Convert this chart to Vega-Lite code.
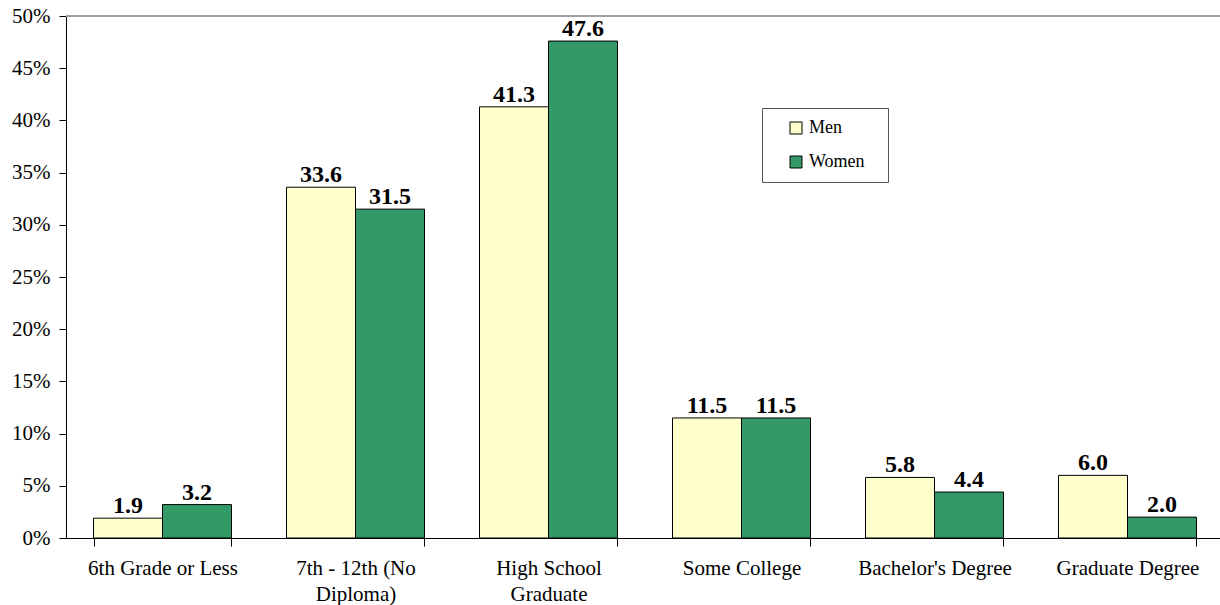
{
  "$schema": "https://vega.github.io/schema/vega-lite/v6.json",
  "width": 1158,
  "height": 522,
  "autosize": "none",
  "padding": {"left": 66, "top": 16, "right": 0, "bottom": 67},
  "background": "white",
  "config": {
    "view": {"stroke": null},
    "font": "Liberation Serif"
  },
  "data": {
    "values": [
      {"level": "6th Grade or Less", "sex": "Men", "pct": 1.9},
      {"level": "6th Grade or Less", "sex": "Women", "pct": 3.2},
      {"level": "7th - 12th (No Diploma)", "sex": "Men", "pct": 33.6},
      {"level": "7th - 12th (No Diploma)", "sex": "Women", "pct": 31.5},
      {"level": "High School Graduate", "sex": "Men", "pct": 41.3},
      {"level": "High School Graduate", "sex": "Women", "pct": 47.6},
      {"level": "Some College", "sex": "Men", "pct": 11.5},
      {"level": "Some College", "sex": "Women", "pct": 11.5},
      {"level": "Bachelor's Degree", "sex": "Men", "pct": 5.8},
      {"level": "Bachelor's Degree", "sex": "Women", "pct": 4.4},
      {"level": "Graduate Degree", "sex": "Men", "pct": 6.0},
      {"level": "Graduate Degree", "sex": "Women", "pct": 2.0}
    ]
  },
  "encoding": {
    "x": {
      "field": "level",
      "type": "nominal",
      "sort": null,
      "scale": {"paddingInner": 0.285, "paddingOuter": 0.1425},
      "axis": {
        "title": null,
        "labelAngle": 0,
        "tickBand": "extent",
        "domainColor": "black",
        "tickColor": "black",
        "tickSize": 8,
        "labelPadding": 11,
        "labelFont": "Liberation Serif",
        "labelFontSize": 21,
        "labelColor": "black",
        "labelLineHeight": 26,
        "labelBaseline": "top",
        "labelLimit": 400,
        "labelExpr": "datum.label == '7th - 12th (No Diploma)' ? ['7th - 12th (No', 'Diploma)'] : datum.label == 'High School Graduate' ? ['High School', 'Graduate'] : datum.label"
      }
    },
    "xOffset": {"field": "sex", "type": "nominal", "scale": {"paddingInner": 0, "paddingOuter": 0}},
    "y": {
      "field": "pct",
      "type": "quantitative",
      "scale": {"domain": [0, 50], "nice": false},
      "axis": {
        "title": null,
        "values": [0, 5, 10, 15, 20, 25, 30, 35, 40, 45, 50],
        "labelExpr": "datum.value + '%'",
        "grid": false,
        "domainColor": "black",
        "tickColor": "black",
        "tickSize": 7,
        "labelPadding": 9,
        "labelFont": "Liberation Serif",
        "labelFontSize": 21,
        "labelColor": "black"
      }
    }
  },
  "layer": [
    {
      "mark": {"type": "bar", "stroke": "black", "strokeWidth": 1},
      "encoding": {
        "color": {
          "field": "sex",
          "type": "nominal",
          "scale": {"domain": ["Men", "Women"], "range": ["#FFFFCC", "#339966"]},
          "legend": {
            "title": "\u00a0",
            "titleOrient": "right",
            "titlePadding": 12,
            "titleFontSize": 4,
            "orient": "none",
            "legendX": 696,
            "legendY": 92,
            "symbolType": "square",
            "symbolSize": 144,
            "symbolStrokeColor": "black",
            "symbolStrokeWidth": 1,
            "symbolOffset": 14,
            "labelOffset": 4,
            "labelFont": "Liberation Serif",
            "labelFontSize": 18,
            "labelColor": "black",
            "rowPadding": 16,
            "padding": 11,
            "strokeColor": "#555555",
            "fillColor": "white"
          }
        }
      }
    },
    {
      "mark": {"type": "text", "baseline": "alphabetic", "dy": -5, "fontSize": 24, "fontWeight": "bold", "font": "Liberation Serif", "color": "black"},
      "encoding": {
        "text": {"field": "pct", "type": "quantitative", "format": ".1f"}
      }
    },
    {
      "data": {"values": [{"top": 50}]},
      "mark": {"type": "rule", "color": "#a0a0a0", "strokeWidth": 2},
      "encoding": {"y": {"field": "top", "type": "quantitative"}, "x": null, "xOffset": null}
    }
  ]
}
